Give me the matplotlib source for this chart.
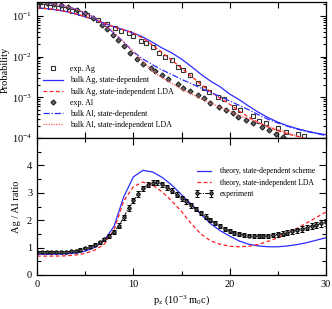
import numpy as np
import matplotlib
matplotlib.use("Agg")
import matplotlib.pyplot as plt
from matplotlib.ticker import MultipleLocator, LogLocator, NullFormatter

plt.rcParams['font.family'] = 'serif'
plt.rcParams['font.serif'] = ['Liberation Serif', 'DejaVu Serif']
plt.rcParams['mathtext.fontset'] = 'custom'
plt.rcParams['mathtext.rm'] = 'Liberation Serif'
plt.rcParams['mathtext.it'] = 'Liberation Serif:italic'

# ---- top panel: momentum distributions ----
pz_ag_exp = [0, 0.5, 1.35, 2.19, 2.92, 3.65, 4.48, 5.2, 6.35, 7.3, 8.1, 8.75, 9.5, 10.0,
             10.8, 11.35, 12.0, 12.7, 13.3, 14.0, 14.6, 15.2, 15.9, 16.7, 17.3, 17.9,
             18.75, 19.4, 20.4, 21.1, 22.4, 23.0, 23.75, 25.0, 25.8, 27.1, 27.7]
ag_exp = [0.175, 0.174, 0.166, 0.155, 0.148, 0.132, 0.117, 0.105, 0.0794, 0.0631, 0.0501,
          0.0425, 0.0380, 0.0324, 0.0240, 0.0214, 0.0174, 0.0123, 0.00977, 0.00832,
          0.00550, 0.00468, 0.00355, 0.00224, 0.00170, 0.00135, 0.00102, 0.00089,
          0.000575, 0.000490, 0.000350, 0.000265, 0.000234, 0.000178, 0.000141,
          0.000126, 0.000112]

pz_al_exp = [0, 0.3, 1.05, 1.8, 2.5, 3.25, 4.15, 5.0, 5.8, 6.75, 7.3, 7.9, 8.4, 9.0, 9.7,
             10.4, 11.05, 11.8, 12.3, 13.0, 13.65, 14.6, 15.2, 15.9, 16.7, 17.3, 18.0,
             18.9, 19.6, 20.3, 20.9, 21.7, 22.4, 23.4, 24.1, 24.8, 25.5]
al_exp = [0.219, 0.214, 0.204, 0.195, 0.182, 0.170, 0.138, 0.115, 0.0871, 0.0603, 0.0468,
          0.0331, 0.0251, 0.0182, 0.0126, 0.00851, 0.00676, 0.00513, 0.00447, 0.00355,
          0.00275, 0.00214, 0.00166, 0.00145, 0.00115, 0.000955, 0.000741, 0.000562,
          0.000490, 0.000407, 0.000331, 0.000275, 0.000234, 0.000186, 0.000158,
          0.000126, 0.000107]

pz_th = np.arange(0, 31)
# log10 of the theoretical probabilities
ag_sd_log = [-0.80, -0.82, -0.85, -0.89, -0.95, -1.02, -1.09, -1.18, -1.27, -1.34, -1.42,
             -1.52, -1.65, -1.79, -1.91, -2.06, -2.24, -2.43, -2.60, -2.74, -2.92, -3.06,
             -3.22, -3.37, -3.50, -3.61, -3.70, -3.77, -3.83, -3.88, -3.92]
ag_lda_log = [-0.80, -0.82, -0.85, -0.89, -0.95, -1.02, -1.09, -1.18, -1.27, -1.34, -1.42,
              -1.55, -1.72, -1.90, -2.09, -2.28, -2.48, -2.68, -2.86, -3.02, -3.17, -3.34,
              -3.49, -3.62, -3.73, -3.82, -3.90, -3.96, -4.02, -4.08, -4.13]
al_sd_log = [-0.66, -0.68, -0.71, -0.76, -0.83, -0.93, -1.04, -1.22, -1.42, -1.64, -1.88,
             -2.06, -2.20, -2.33, -2.44, -2.56, -2.66, -2.77, -2.88, -2.98, -3.09, -3.20,
             -3.31, -3.43, -3.54, -3.63, -3.71, -3.78, -3.84, -3.89, -3.94]
al_lda_log = [-0.66, -0.68, -0.71, -0.76, -0.83, -0.93, -1.04, -1.22, -1.42, -1.64, -1.88,
              -2.12, -2.36, -2.52, -2.66, -2.80, -2.92, -3.03, -3.14, -3.24, -3.34, -3.44,
              -3.53, -3.62, -3.71, -3.79, -3.87, -3.95, -4.02, -4.09, -4.15]

# ---- bottom panel: Ag / Al ratio ----
ratio_sd = [0.76, 0.76, 0.76, 0.77, 0.80, 0.87, 1.01, 1.27, 1.78, 2.85, 3.58, 3.82, 3.76,
            3.56, 3.28, 2.93, 2.59, 2.22, 1.88, 1.62, 1.42, 1.24, 1.12, 1.06, 1.03, 1.03,
            1.06, 1.11, 1.18, 1.27, 1.36]
ratio_lda = [0.69, 0.69, 0.69, 0.70, 0.73, 0.79, 0.91, 1.13, 1.65, 2.70, 3.22, 3.39, 3.28,
             3.03, 2.70, 2.32, 1.88, 1.50, 1.25, 1.12, 1.05, 1.03, 1.05, 1.12, 1.23, 1.36,
             1.52, 1.70, 1.90, 2.10, 2.30]

pz_exp = np.arange(0, 30.01, 0.5)
ratio_exp = [0.85, 0.85, 0.85, 0.85, 0.85, 0.85, 0.85, 0.86, 0.89, 0.93, 0.98, 1.03, 1.10,
             1.19, 1.30, 1.42, 1.58, 1.80, 2.10, 2.45, 2.72, 2.95, 3.16, 3.30, 3.37, 3.38,
             3.31, 3.20, 3.08, 2.93, 2.80, 2.69, 2.55, 2.41, 2.27, 2.13, 2.00, 1.89, 1.78,
             1.69, 1.60, 1.54, 1.49, 1.46, 1.44, 1.43, 1.42, 1.42, 1.43, 1.45, 1.48, 1.51,
             1.55, 1.59, 1.63, 1.68, 1.73, 1.78, 1.83, 1.88, 1.92]
ratio_err = [0.03, 0.03, 0.03, 0.03, 0.03, 0.03, 0.03, 0.03, 0.04, 0.04, 0.04, 0.05, 0.05,
             0.06, 0.06, 0.07, 0.08, 0.08, 0.09, 0.10, 0.10, 0.10, 0.10, 0.10, 0.10, 0.10,
             0.10, 0.10, 0.10, 0.10, 0.10, 0.09, 0.09, 0.09, 0.08, 0.08, 0.08, 0.07, 0.07,
             0.07, 0.07, 0.07, 0.07, 0.07, 0.07, 0.07, 0.07, 0.07, 0.08, 0.08, 0.08, 0.09,
             0.09, 0.09, 0.10, 0.10, 0.10, 0.11, 0.11, 0.12, 0.12]

blue = '#2b2bff'
red = '#ff2020'

fig = plt.figure(figsize=(3.32, 3.09), dpi=100)
ax1 = fig.add_axes([37/332, 1-138/309, 289/332, 136/309])
ax2 = fig.add_axes([37/332, 1-275/309, 289/332, 137/309])

ax1.plot(pz_ag_exp, ag_exp, ls='none', marker='s', ms=3.2, mfc='none', mec='#333333',
         mew=0.8, label='exp. Ag')
ax1.plot(pz_th, 10**np.array(ag_sd_log), color=blue, lw=0.9, label='bulk Ag, state-dependent')
ax1.plot(pz_th, 10**np.array(ag_lda_log), color=red, lw=0.9, ls=(0, (3, 2)),
         label='bulk Ag, state-independent LDA')
ax1.plot(pz_al_exp, al_exp, ls='none', marker='D', ms=2.6, mfc='#666666', mec='#222222',
         mew=0.8, label='exp. Al')
ax1.plot(pz_th, 10**np.array(al_sd_log), color=blue, lw=0.9, ls=(0, (5, 1.5, 1, 1.5)),
         label='bulk Al, state-dependent')
ax1.plot(pz_th, 10**np.array(al_lda_log), color='#ff6060', lw=0.9, ls=(0, (1, 1)),
         label='bulk Al, state-independent LDA')

ax1.set_yscale('log')
ax1.set_xlim(0, 30)
ax1.set_ylim(1e-4, 0.22)
ax1.yaxis.set_major_locator(LogLocator(base=10, numticks=10))
ax1.yaxis.set_minor_locator(LogLocator(base=10, subs=np.arange(2, 10), numticks=10))
ax1.yaxis.set_minor_formatter(NullFormatter())
ax1.xaxis.set_major_locator(MultipleLocator(5))
ax1.tick_params(axis='both', which='both', direction='in', top=True, right=True,
                labelbottom=False, labelsize=7.5, width=0.8)
ax1.tick_params(which='major', length=4.5)
ax1.tick_params(which='minor', length=2.5)
ax1.set_ylabel('Probability', fontsize=7.5, labelpad=2)
ax1.legend(loc='lower left', bbox_to_anchor=(0.0, 0.025), frameon=False, fontsize=5.7,
           numpoints=1, handlelength=2.6, handletextpad=0.9, labelspacing=0.4,
           borderaxespad=0.3)

ax2.plot(pz_th, ratio_sd, color=blue, lw=0.9, label='theory, state-dependent scheme')
ax2.plot(pz_th, ratio_lda, color=red, lw=0.9, ls=(0, (3, 2)),
         label='theory, state-independent LDA')
ax2.errorbar(pz_exp, ratio_exp, yerr=ratio_err, color='black', lw=0.7,
             ls=(0, (4, 1.5, 1, 1.5)), marker='o', ms=2.4, mfc='#555555', mec='black',
             mew=0.7, elinewidth=0.7, capsize=1.3, capthick=0.7, label='experiment')
ax2.set_xlim(0, 30)
ax2.set_ylim(0, 5)
ax2.set_yticks([0, 1, 2, 3, 4])
ax2.xaxis.set_major_locator(MultipleLocator(10))
ax2.xaxis.set_minor_locator(MultipleLocator(5))
ax2.yaxis.set_minor_locator(MultipleLocator(0.5))
ax2.tick_params(axis='both', which='both', direction='in', top=True, right=True,
                labelsize=7.5, width=0.8)
ax2.tick_params(which='major', length=5)
ax2.tick_params(which='minor', length=3)
ax2.set_ylabel('Ag / Al ratio', fontsize=7.5, labelpad=4)
ax2.set_xlabel(r'p$_\mathdefault{z}$ (10$^\mathdefault{-3}$ m$_\mathdefault{0}$c)',
               fontsize=7.5, labelpad=3)
ax2.legend(loc='upper left', bbox_to_anchor=(0.53, 0.82), frameon=False, fontsize=5.5,
           numpoints=2, handlelength=2.4, handletextpad=0.9, labelspacing=0.45,
           borderaxespad=0.2)

for ax in (ax1, ax2):
    for s in ax.spines.values():
        s.set_linewidth(0.9)

fig.savefig('out.png', dpi=100)
